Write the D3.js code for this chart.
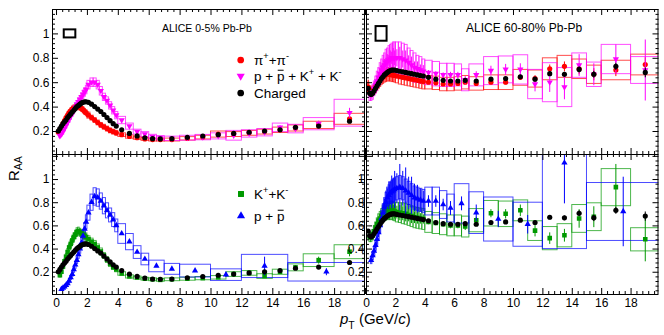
<!DOCTYPE html>
<html>
<head>
<meta charset="utf-8">
<script src="https://cdn.jsdelivr.net/npm/d3@7"></script>
<style>
body{margin:0;background:#fff}
svg{display:block}
</style>
</head>
<body>
<div id="chart"></div>
<script>
//bin edges (GeV/c)
const ptLowEdges=[0.1,0.2,0.3,0.4,0.5,0.6,0.7,0.8,0.9,1.0,1.1,1.2,1.3,1.4,1.5,1.6,1.7,1.8,1.9,2.0,
                  2.2,2.4,2.6,2.8,3.0,3.2,3.4,3.6,3.8,4.0];
const ptHighEdges=[4,4.5,5,5.5,6,6.5,7,8,9,10,11,12,13,14,15,16,18,20];
const protonHighEdges=[4,4.5,5,5.5,6,7,8,10,12,15,20];

//tick labels
const xTickLabels=[0,2,4,6,8,10,12,14,16,18];
const yTickLabels=[0.2,0.4,0.6,0.8,1];
const normUncert=[0.033,0.06];   //0-5%, 60-80%

// ---- 0-5% ----
const chg05Low=[0.20,0.22,0.24,0.26,0.275,0.29,0.31,0.325,0.34,0.355,0.37,0.385,0.40,0.41,0.42,0.43,0.435,0.44,0.44,
                0.435,0.42,0.40,0.38,0.36,0.335,0.31,0.285,0.26,0.24];
const chg05High=[0.21,0.18,0.16,0.145,0.137,0.135,0.137,0.148,0.159,0.17,0.18,0.19,0.20,0.21,0.23,0.24,0.28];
const chg05HighStat=[0.003,0.003,0.003,0.003,0.003,0.003,0.003,0.003,0.004,0.005,0.006,0.007,0.008,0.009,0.01,0.01,0.015];

const pion05Low=[0.19,0.21,0.235,0.26,0.285,0.31,0.33,0.35,0.365,0.38,0.39,0.395,0.40,0.40,0.395,0.385,0.375,0.36,0.35,
                 0.33,0.31,0.29,0.27,0.25,0.235,0.22,0.205,0.195,0.185];
const pion05LowSys=[0.02,0.02,0.02,0.02,0.02,0.02,0.025,0.025,0.025,0.025,0.025,0.025,0.025,0.025,0.025,0.025,0.025,0.025,0.025,
                    0.025,0.02,0.02,0.02,0.02,0.02,0.02,0.02,0.02,0.02];
const pion05High=[0.17,0.155,0.145,0.135,0.13,0.13,0.13,0.14,0.15,0.175,0.175,0.185,0.195,0.21,0.225,0.25,0.30];
const pion05HighStat=[0.003,0.003,0.003,0.003,0.003,0.003,0.003,0.004,0.005,0.006,0.007,0.008,0.009,0.01,0.012,0.012,0.02];
const pion05HighSys=[0.015,0.014,0.013,0.012,0.012,0.012,0.012,0.014,0.015,0.025,0.02,0.02,0.02,0.022,0.025,0.03,0.045];

const pK05Low=[null,0.16,0.175,0.195,0.22,0.245,0.27,0.295,0.32,0.345,0.37,0.395,0.42,0.44,0.46,0.48,0.50,0.52,0.54,
               0.58,0.60,0.60,0.58,0.53,0.48,0.45,0.41,0.37,0.33];
const pK05LowSys=[null,0.015,0.015,0.02,0.02,0.02,0.02,0.025,0.025,0.025,0.03,0.03,0.03,0.03,0.03,0.03,0.035,0.035,0.035,
                  0.035,0.035,0.035,0.035,0.035,0.03,0.03,0.03,0.03,0.03];
const pK05High=[0.29,0.24,0.195,0.175,0.155,0.145,0.14,0.145,0.15,0.16,0.165,0.18,0.19,0.23,0.22,0.26,0.35];
const pK05HighStat=[0.004,0.004,0.004,0.004,0.004,0.004,0.004,0.005,0.006,0.008,0.01,0.012,0.015,0.018,0.02,0.025,0.04];
const pK05HighSys=[0.03,0.025,0.02,0.02,0.018,0.018,0.018,0.02,0.022,0.025,0.04,0.03,0.03,0.035,0.035,0.05,0.11];

const kaon05Low=[null,0.17,0.20,0.245,0.29,0.33,0.37,0.41,0.44,0.47,0.50,0.52,0.545,0.55,0.54,0.53,0.52,0.51,0.50,
                 0.48,0.46,0.44,0.41,0.375,0.34,0.305,0.27,0.24,0.22];
const kaon05LowSys=[null,0.015,0.015,0.02,0.02,0.025,0.03,0.03,0.035,0.035,0.035,0.035,0.035,0.035,0.035,0.035,0.035,0.035,0.035,
                    0.03,0.03,0.03,0.03,0.03,0.025,0.025,0.025,0.02,0.02];
const kaon05High=[0.185,0.16,0.15,0.14,0.135,0.13,0.135,0.14,0.145,0.152,0.18,0.19,0.163,0.2,0.238,0.30,0.373];
const kaon05HighStat=[0.004,0.004,0.004,0.004,0.004,0.004,0.005,0.006,0.007,0.008,0.01,0.012,0.014,0.016,0.02,0.03,0.04];
const kaon05HighSys=[0.015,0.014,0.013,0.012,0.012,0.012,0.012,0.013,0.014,0.015,0.02,0.02,0.02,0.022,0.03,0.055,0.06];

const proton05Low=[null,null,0.05,0.06,0.07,0.085,0.10,0.12,0.15,0.18,0.22,0.26,0.30,0.35,0.40,0.45,0.51,0.57,0.63,
                   0.71,0.80,0.85,0.84,0.81,0.77,0.73,0.69,0.65,0.60];
const proton05LowSys=[null,null,0.008,0.008,0.01,0.01,0.012,0.015,0.018,0.02,0.025,0.03,0.03,0.035,0.04,0.045,0.05,0.055,0.06,
                      0.065,0.07,0.075,0.075,0.07,0.07,0.065,0.06,0.06,0.055];
const proton05High=[0.53,0.46,0.37,0.31,0.25,0.225,0.21,0.175,0.25,0.20];
const proton05HighStat=[0.008,0.008,0.008,0.008,0.007,0.01,0.012,0.02,0.08,0.03];
const proton05HighSys=[0.085,0.07,0.055,0.05,0.05,0.047,0.055,0.05,0.1,0.08];

// ---- 60-80% ----
const chg60Low=[0.55,0.51,0.50,0.51,0.53,0.55,0.57,0.59,0.61,0.63,0.645,0.66,0.67,0.68,0.69,0.695,0.70,0.70,0.70,
                0.695,0.69,0.685,0.68,0.675,0.67,0.665,0.66,0.655,0.65];
const chg60High=[0.64,0.625,0.615,0.61,0.61,0.615,0.61,0.625,0.63,0.645,0.625,0.67,0.665,0.705,0.665,0.73,0.68];
const chg60HighStat=[0.004,0.004,0.004,0.005,0.005,0.006,0.006,0.008,0.01,0.012,0.015,0.018,0.02,0.025,0.028,0.03,0.04];

const pion60Low=[0.56,0.53,0.52,0.53,0.545,0.56,0.58,0.60,0.615,0.63,0.64,0.65,0.66,0.665,0.665,0.665,0.66,0.66,0.655,
                 0.65,0.645,0.64,0.635,0.63,0.625,0.62,0.615,0.61,0.605];
const pion60LowStat=[0.06,0.03,0.02,0.015,0.012,0.01,0.01,0.01,0.01,0.012,0.012,0.012,0.014,0.014,0.015,0.016,0.018,0.018,0.02,
                     0.015,0.015,0.016,0.016,0.018,0.018,0.02,0.02,0.022,0.022];
const pion60LowSys=[0.04,0.04,0.04,0.04,0.045,0.045,0.045,0.05,0.05,0.05,0.05,0.05,0.055,0.055,0.055,0.055,0.055,0.055,0.055,
                    0.055,0.06,0.06,0.06,0.06,0.06,0.06,0.06,0.06,0.06];
const pion60High=[0.60,0.595,0.585,0.585,0.59,0.60,0.59,0.60,0.60,0.64,0.63,0.71,0.73,0.71,0.665,0.70,0.745];
const pion60HighStat=[0.006,0.006,0.007,0.008,0.009,0.01,0.01,0.014,0.018,0.022,0.028,0.035,0.04,0.045,0.05,0.05,0.06];
const pion60HighSys=[0.055,0.055,0.055,0.055,0.055,0.055,0.055,0.06,0.06,0.065,0.07,0.09,0.09,0.08,0.075,0.08,0.085];

const pK60Low=[null,0.50,0.50,0.52,0.55,0.58,0.61,0.64,0.67,0.70,0.72,0.74,0.76,0.77,0.78,0.79,0.80,0.80,0.80,
               0.80,0.80,0.79,0.78,0.76,0.74,0.72,0.71,0.70,0.69];
const pK60LowStat=[null,0.02,0.02,0.025,0.02,0.03,0.025,0.035,0.03,0.045,0.035,0.05,0.04,0.06,0.045,0.07,0.05,0.08,0.06,
                   0.07,0.09,0.07,0.08,0.06,0.07,0.05,0.06,0.045,0.05];
const pK60LowSys=[null,0.05,0.05,0.06,0.06,0.07,0.08,0.08,0.09,0.09,0.1,0.1,0.11,0.11,0.12,0.12,0.12,0.13,0.13,
                  0.13,0.13,0.13,0.13,0.12,0.12,0.12,0.11,0.11,0.1];
const pK60High=[0.68,0.67,0.66,0.66,0.66,0.62,0.66,0.695,0.705,0.705,0.585,0.60,0.56,0.74,0.665,0.79,0.70];
const pK60HighStat=[0.02,0.02,0.02,0.025,0.025,0.03,0.03,0.04,0.045,0.05,0.06,0.08,0.1,0.09,0.09,0.12,0.25];
const pK60HighSys=[0.1,0.1,0.095,0.095,0.09,0.09,0.09,0.115,0.11,0.12,0.12,0.16,0.16,0.1,0.1,0.12,0.11];

const kaon60Low=[null,0.50,0.50,0.52,0.55,0.58,0.61,0.64,0.66,0.68,0.70,0.71,0.72,0.725,0.73,0.73,0.73,0.725,0.72,
                 0.715,0.71,0.705,0.70,0.69,0.68,0.67,0.665,0.66,0.655];
const kaon60LowStat=[null,0.02,0.02,0.02,0.025,0.02,0.03,0.025,0.035,0.03,0.04,0.035,0.045,0.04,0.05,0.045,0.055,0.05,0.06,
                     0.055,0.065,0.06,0.065,0.055,0.06,0.05,0.05,0.045,0.04];
const kaon60LowSys=[null,0.04,0.04,0.045,0.05,0.05,0.055,0.06,0.06,0.065,0.07,0.07,0.075,0.075,0.08,0.08,0.08,0.08,0.08,
                    0.085,0.085,0.09,0.09,0.09,0.09,0.09,0.09,0.09,0.09];
const kaon60High=[0.63,0.62,0.61,0.60,0.60,0.59,0.645,0.705,0.70,0.73,0.555,0.49,0.515,0.66,0.675,0.93,0.48];
const kaon60HighStat=[0.02,0.02,0.02,0.025,0.025,0.03,0.03,0.035,0.04,0.05,0.05,0.05,0.055,0.08,0.09,0.2,0.19];
const kaon60HighSys=[0.09,0.09,0.09,0.09,0.09,0.09,0.1,0.11,0.11,0.09,0.085,0.1,0.1,0.12,0.12,0.16,0.1];

const proton60Low=[null,null,0.30,0.34,0.38,0.43,0.48,0.54,0.60,0.66,0.71,0.76,0.80,0.84,0.86,0.88,0.89,0.90,0.91,
                   0.92,0.93,0.92,0.90,0.88,0.86,0.84,0.83,0.82,0.81];
const proton60LowStat=[null,null,0.02,0.02,0.03,0.03,0.04,0.04,0.06,0.05,0.08,0.07,0.1,0.08,0.12,0.1,0.14,0.11,0.16,
                       0.13,0.2,0.15,0.2,0.14,0.16,0.12,0.12,0.1,0.09];
const proton60LowSys=[null,null,0.03,0.035,0.04,0.045,0.05,0.06,0.065,0.07,0.075,0.08,0.085,0.09,0.09,0.095,0.1,0.1,0.1,
                      0.1,0.1,0.1,0.1,0.1,0.1,0.1,0.1,0.1,0.1];
const proton60High=[0.81,0.81,0.78,0.75,0.79,0.71,0.655,0.61,1.14,0.72];
const proton60HighStat=[0.05,0.05,0.05,0.06,0.06,0.07,0.07,0.08,0.35,0.3];
const proton60HighSys=[0.12,0.12,0.12,0.12,0.17,0.18,0.19,0.19,0.74,0.25];

const FONT='"Liberation Sans", Arial, Helvetica, sans-serif';
const w=664,h=335;

const svg=d3.select("#chart").append("svg")
    .attr("width",w).attr("height",h)
    .attr("font-family",FONT);

//builds points from bin edges and value arrays
function bins(edges,val,stat,sys){
    return d3.pairs(edges).map((e,i)=>({lo:e[0],hi:e[1],pt:(e[0]+e[1])/2,v:val[i],
        stat:stat?stat[i]:0, sys:sys?sys[i]:0})).filter(d=>d.v!=null);
}
function join(low,high){ return low.concat(high); }

const pion05=join(bins(ptLowEdges,pion05Low,null,pion05LowSys),bins(ptHighEdges,pion05High,pion05HighStat,pion05HighSys));
const pK05=join(bins(ptLowEdges,pK05Low,null,pK05LowSys),bins(ptHighEdges,pK05High,pK05HighStat,pK05HighSys));
const kaon05=join(bins(ptLowEdges,kaon05Low,null,kaon05LowSys),bins(ptHighEdges,kaon05High,kaon05HighStat,kaon05HighSys));
const proton05=join(bins(ptLowEdges,proton05Low,null,proton05LowSys),bins(protonHighEdges,proton05High,proton05HighStat,proton05HighSys));
const chg05=join(bins(ptLowEdges,chg05Low),bins(ptHighEdges,chg05High,chg05HighStat));

const pion60=join(bins(ptLowEdges,pion60Low,pion60LowStat,pion60LowSys),bins(ptHighEdges,pion60High,pion60HighStat,pion60HighSys));
const pK60=join(bins(ptLowEdges,pK60Low,pK60LowStat,pK60LowSys),bins(ptHighEdges,pK60High,pK60HighStat,pK60HighSys));
const kaon60=join(bins(ptLowEdges,kaon60Low,kaon60LowStat,kaon60LowSys),bins(ptHighEdges,kaon60High,kaon60HighStat,kaon60HighSys));
const proton60=join(bins(ptLowEdges,proton60Low,proton60LowStat,proton60LowSys),bins(protonHighEdges,proton60High,proton60HighStat,proton60HighSys));
const chg60=join(bins(ptLowEdges,chg60Low),bins(ptHighEdges,chg60High,chg60HighStat));

const RED="#ff0000",MAG="#ff00ff",GRN="#009900",BLU="#0000ff",BLK="#000000";

//marker shapes
const shapes={
    circle:d3.symbol(d3.symbolCircle,21)(),
    up:d3.symbol(d3.symbolTriangle,17)(),
    square:d3.symbol(d3.symbolSquare,21)()
};
function marker(sel,shape,color,scale){
    sel.append("path").attr("d",shape=="down"?shapes.up:shapes[shape])
       .attr("fill",color)
       .attr("transform",(shape=="down"?"rotate(180)":"")+(scale?" scale("+scale+")":""));
}

//panel geometry
const colL={x0:52,x1:365,dom:[-0.26,20]}, colR={x0:366,x1:658.5,dom:[0,19.9]};
const rowT={y0:9,y1:154,dom:[0.0115,1.2]}, rowB={y0:154,y1:294,dom:[0.008,1.216]};

const panels=[
 {col:colL,row:rowT,boxes:[[pion05,RED],[pK05,MAG]],marks:[[pion05,RED,"circle"],[pK05,MAG,"down"],[chg05,BLK,"circle"]],norm:normUncert[0],nx:[0.5,1.25],ylab:true},
 {col:colL,row:rowB,boxes:[[kaon05,GRN],[proton05,BLU]],marks:[[kaon05,GRN,"square"],[proton05,BLU,"up"],[chg05,BLK,"circle"]],xlab:true,ylab:true},
 {col:colR,row:rowT,boxes:[[pion60,RED],[pK60,MAG]],marks:[[pion60,RED,"circle"],[pK60,MAG,"down"],[chg60,BLK,"circle"]],norm:normUncert[1],nx:[0.65,1.4]},
 {col:colR,row:rowB,boxes:[[kaon60,GRN],[proton60,BLU]],marks:[[kaon60,GRN,"square"],[proton60,BLU,"up"],[chg60,BLK,"circle"]],xlab:true,ylab:true}
];

const xMajor=d3.range(0,20.001,2);
const xMinor=d3.range(0,20.001,0.4).filter(v=>Math.abs(v/2-Math.round(v/2))>1e-6);
const yMajor=d3.range(0.2,1.2001,0.2);
const yMinor=d3.range(0.04,1.2001,0.04).filter(v=>Math.abs(v/0.2-Math.round(v/0.2))>1e-6);

panels.forEach((p,pi)=>{
    const x=d3.scaleLinear().domain(p.col.dom).range([p.col.x0,p.col.x1]);
    const y=d3.scaleLinear().domain(p.row.dom).range([p.row.y1,p.row.y0]);
    const inX=v=>v>=p.col.dom[0]-1e-6&&v<=p.col.dom[1]+1e-6;
    const inY=v=>v>=p.row.dom[0]&&v<=p.row.dom[1]+1e-6;

    const clipId="clip"+pi;
    svg.append("clipPath").attr("id",clipId).append("rect")
       .attr("x",p.col.x0).attr("y",p.row.y0)
       .attr("width",p.col.x1-p.col.x0).attr("height",p.row.y1-p.row.y0);
    const g=svg.append("g").attr("clip-path","url(#"+clipId+")");

    //systematic boxes
    p.boxes.forEach(([data,color])=>{
        g.append("g").selectAll("rect").data(data.filter(d=>d.sys>0)).enter().append("rect")
         .attr("x",d=>x(d.lo)).attr("width",d=>x(d.hi)-x(d.lo))
         .attr("y",d=>y(d.v+d.sys)).attr("height",d=>y(d.v-d.sys)-y(d.v+d.sys))
         .attr("fill","none").attr("stroke",color).attr("stroke-opacity",0.7).attr("stroke-width",1);
    });
    //stat errors + markers
    p.marks.forEach(([data,color,shape])=>{
        g.append("g").selectAll("line").data(data.filter(d=>d.stat>0)).enter().append("line")
         .attr("x1",d=>x(d.pt)).attr("x2",d=>x(d.pt))
         .attr("y1",d=>y(d.v-d.stat)).attr("y2",d=>y(d.v+d.stat))
         .attr("stroke",color).attr("stroke-width",1);
        g.append("g").selectAll("g").data(data).enter().append("g")
         .attr("transform",d=>"translate("+x(d.pt)+","+y(d.v)+")")
         .each(function(){ marker(d3.select(this),shape,color); });
    });
    //normalisation uncertainty box
    if(p.norm){
        svg.append("rect").attr("x",x(p.nx[0])).attr("width",x(p.nx[1])-x(p.nx[0]))
           .attr("y",y(1+p.norm)).attr("height",y(1-p.norm)-y(1+p.norm))
           .attr("fill","none").attr("stroke","#000").attr("stroke-width",2);
    }

    //axes with inward ticks
    const ax=svg.append("g");
    const put=(axis,tx,ty)=>{
        const a=ax.append("g").attr("transform","translate("+tx+","+ty+")").call(axis);
        a.select(".domain").remove();
        a.selectAll("text").attr("font-size",12).attr("font-family",FONT).attr("fill","#000");
        a.selectAll("line").attr("stroke","#000");
        return a;
    };
    const xm=xMajor.filter(inX), xn=xMinor.filter(inX), ym=yMajor.filter(inY), yn=yMinor.filter(inY);
    const fmtX=v=>(p.xlab&&xTickLabels.includes(v))?String(v):"";
    const fmtY=v=>{const r=Math.round(v*10)/10; return (p.ylab&&yTickLabels.includes(r))?String(r):"";};
    put(d3.axisBottom(x).tickValues(xm).tickSize(-6).tickSizeOuter(0).tickPadding(4).tickFormat(fmtX),0,p.row.y1);
    put(d3.axisBottom(x).tickValues(xn).tickSize(-3).tickSizeOuter(0).tickFormat(""),0,p.row.y1);
    put(d3.axisTop(x).tickValues(xm).tickSize(-6).tickSizeOuter(0).tickFormat(""),0,p.row.y0);
    put(d3.axisTop(x).tickValues(xn).tickSize(-3).tickSizeOuter(0).tickFormat(""),0,p.row.y0);
    put(d3.axisLeft(y).tickValues(ym).tickSize(-6).tickSizeOuter(0).tickPadding(pi==3?1.5:2.5).tickFormat(fmtY),p.col.x0,0);
    put(d3.axisLeft(y).tickValues(yn).tickSize(-3).tickSizeOuter(0).tickFormat(""),p.col.x0,0);
    put(d3.axisRight(y).tickValues(ym).tickSize(-6).tickSizeOuter(0).tickFormat(""),p.col.x1,0);
    put(d3.axisRight(y).tickValues(yn).tickSize(-3).tickSizeOuter(0).tickFormat(""),p.col.x1,0);

    svg.append("rect").attr("x",p.col.x0+0.5).attr("y",p.row.y0+0.5)
       .attr("width",p.col.x1-p.col.x0-1).attr("height",p.row.y1-p.row.y0)
       .attr("fill","none").attr("stroke","#000").attr("stroke-width",1);
});

//rich text helper: parts [text, mode] mode: "sup","sub","bar","it"
function rich(x,y,size,parts){
    const t=svg.append("text").attr("x",x).attr("y",y).attr("font-size",size).attr("fill","#000");
    let shift=0, idx=0; const bars=[];
    parts.forEach(([s,m])=>{
        const ts=t.append("tspan").text(s);
        let target=0;
        if(m=="sup"){target=-size*0.42; ts.attr("font-size",size*0.68);}
        if(m=="sub"){target=size*0.3; ts.attr("font-size",size*0.7);}
        if(m=="bar") bars.push(idx);
        if(m=="it") ts.attr("font-style","italic");
        ts.attr("dy",target-shift); shift=target;
        idx+=s.length;
    });
    //bar over a character (anti-particle)
    bars.forEach(i=>{
        const e=t.node().getExtentOfChar(i);
        svg.append("line").attr("x1",e.x+0.8).attr("x2",e.x+e.width-0.8)
           .attr("y1",y-size*0.76).attr("y2",y-size*0.76)
           .attr("stroke","#000").attr("stroke-width",1);
    });
    return t;
}

//titles
svg.append("text").attr("x",162).attr("y",32).attr("font-size",10.5).text("ALICE 0-5% Pb-Pb");
svg.append("text").attr("x",466).attr("y",32).attr("font-size",12).text("ALICE 60-80% Pb-Pb");

//legends
function legendRow(mx,my,shape,color,tx,parts){
    const g=svg.append("g").attr("transform","translate("+mx+","+my+")");
    marker(g,shape,color,1.3);
    rich(tx,my+4.5,13.5,parts);
}
legendRow(240.7,60,"circle",RED,254,[["π"],["+","sup"],["+π"],["-","sup"]]);
legendRow(240.7,76,"down",MAG,254,[["p + "],["p","bar"],[" + K"],["+","sup"],[" + K"],["-","sup"]]);
legendRow(240.7,93,"circle",BLK,254,[["Charged"]]);
legendRow(241,194,"square",GRN,254,[["K"],["+","sup"],["+K"],["-","sup"]]);
legendRow(241,216,"up",BLU,254,[["p + "],["p","bar"]]);

//axis titles
rich(340,324,15,[["p","it"],["T","sub"],[" (GeV/"],["c","it"],[")"]]);
const ry=svg.append("text").attr("transform","translate(18.5,181) rotate(-90)").attr("font-size",15).attr("fill","#000");
ry.append("tspan").text("R");
ry.append("tspan").attr("font-size",10.5).attr("dy",3.5).text("AA");
</script>
</body>
</html>
